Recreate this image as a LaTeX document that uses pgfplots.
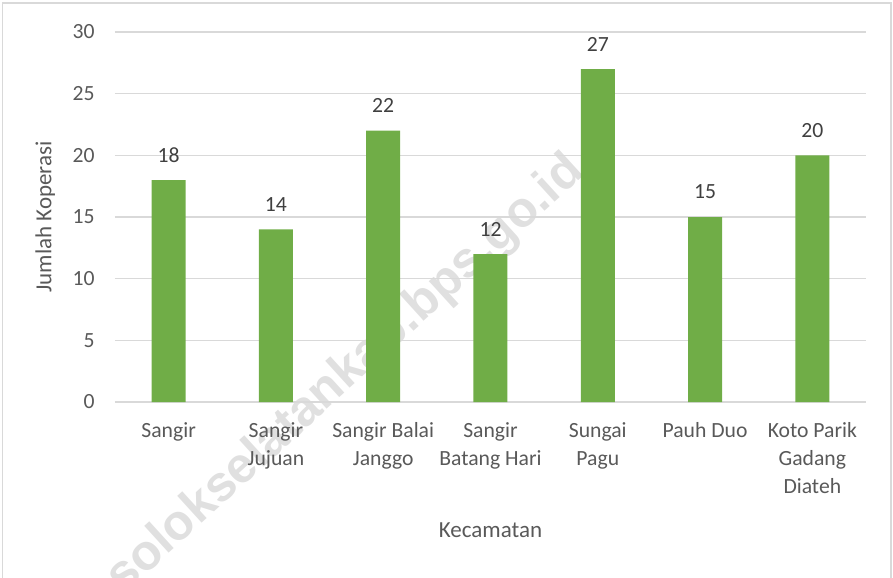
\documentclass[border=0pt]{standalone}
\usepackage{pgfplots}
\pgfplotsset{compat=1.18}
\usepackage{fontspec}
\setmainfont{Carlito}
\newfontfamily\wmfont{Liberation Sans}

\definecolor{bargreen}{HTML}{70AD47}
\definecolor{txtgray}{HTML}{595959}
\definecolor{gridgray}{HTML}{D9D9D9}

\begin{document}
\begin{tikzpicture}
% page = 893 x 577 px, 1px = 0.6pt
\useasboundingbox (0,0) rectangle (535.8pt,346.2pt);
\clip (0,0) rectangle (535.8pt,346.2pt);
\draw[gridgray, line width=0.8pt] (1.5pt,-3pt) rectangle (534.6pt,344.4pt);

% watermark (behind the bars)
\node[rotate=42.3, text=black!12, font=\wmfont\bfseries\fontsize{30}{30}\selectfont]
  at (207.6pt,121.2pt) {solokselatankab.bps.go.id};

\begin{axis}[
    at={(69pt,105pt)}, anchor=south west,
    scale only axis,
    width=450.6pt, height=222pt,
    xmin=-0.5, xmax=6.5,
    ymin=0, ymax=30,
    ytick={0,5,...,30},
    xtick={0,...,6},
    xticklabels={Sangir, Sangir\\Jujuan, Sangir Balai\\Janggo, Sangir\\Batang Hari, Sungai\\Pagu, Pauh Duo, Koto Parik\\Gadang\\Diateh},
    axis line style={draw=none},
    axis x line*=bottom,
    axis y line*=left,
    major tick length=0pt,
    ymajorgrids,
    grid style={gridgray, line width=0.9pt},
    tick label style={text=txtgray, font=\fontsize{13}{16.8}\selectfont},
    /pgf/number format/assume math mode=true,
    yticklabel style={anchor=east, inner sep=0pt, xshift=-12pt},
    xticklabel style={anchor=north, inner sep=0pt, yshift=-12pt, align=center},
    xlabel={Kecamatan},
    ylabel={Jumlah Koperasi},
    label style={text=txtgray, font=\fontsize{13.8}{16}\selectfont},
    xlabel style={at={(axis description cs:0.5,-0.346)}, anchor=center},
    ylabel style={at={(axis description cs:-0.093,0.5)}, anchor=center},
    ybar,
    bar width=20.4pt,
    nodes near coords,
    nodes near coords style={text=black!75, font=\fontsize{13}{14}\selectfont, anchor=center, yshift=15pt},
    clip=false,
]
\addplot[draw=none, fill=bargreen] coordinates {
    (0,18) (1,14) (2,22) (3,12) (4,27) (5,15) (6,20)
};
\end{axis}
\end{tikzpicture}
\end{document}
